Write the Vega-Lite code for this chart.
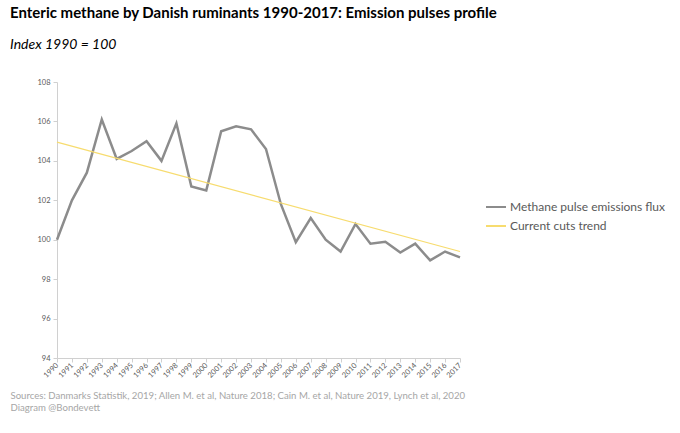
{
  "$schema": "https://vega.github.io/schema/vega-lite/v6.json",
  "width": 403,
  "height": 276,
  "autosize": {"type": "none"},
  "padding": {"left": 57, "top": 82, "right": 220, "bottom": 75},
  "background": "white",
  "title": {
    "text": "Enteric methane by Danish ruminants 1990-2017: Emission pulses profile",
    "subtitle": "\u2002Index 1990 = 100",
    "anchor": "start",
    "frame": "group",
    "dx": -47,
    "offset": 26,
    "font": "Lato",
    "fontSize": 15,
    "fontWeight": "bold",
    "color": "#000000",
    "subtitleFont": "Lato",
    "subtitleFontSize": 14,
    "subtitleFontStyle": "italic",
    "subtitleColor": "#000000",
    "subtitlePadding": 17
  },
  "datasets": {
    "flux": [
      {"year": 1990, "value": 100.0, "series": "Methane pulse emissions flux"},
      {"year": 1991, "value": 102.0, "series": "Methane pulse emissions flux"},
      {"year": 1992, "value": 103.4, "series": "Methane pulse emissions flux"},
      {"year": 1993, "value": 106.1, "series": "Methane pulse emissions flux"},
      {"year": 1994, "value": 104.1, "series": "Methane pulse emissions flux"},
      {"year": 1995, "value": 104.5, "series": "Methane pulse emissions flux"},
      {"year": 1996, "value": 105.0, "series": "Methane pulse emissions flux"},
      {"year": 1997, "value": 104.0, "series": "Methane pulse emissions flux"},
      {"year": 1998, "value": 105.9, "series": "Methane pulse emissions flux"},
      {"year": 1999, "value": 102.7, "series": "Methane pulse emissions flux"},
      {"year": 2000, "value": 102.5, "series": "Methane pulse emissions flux"},
      {"year": 2001, "value": 105.5, "series": "Methane pulse emissions flux"},
      {"year": 2002, "value": 105.75, "series": "Methane pulse emissions flux"},
      {"year": 2003, "value": 105.6, "series": "Methane pulse emissions flux"},
      {"year": 2004, "value": 104.6, "series": "Methane pulse emissions flux"},
      {"year": 2005, "value": 101.8, "series": "Methane pulse emissions flux"},
      {"year": 2006, "value": 99.87, "series": "Methane pulse emissions flux"},
      {"year": 2007, "value": 101.1, "series": "Methane pulse emissions flux"},
      {"year": 2008, "value": 100.0, "series": "Methane pulse emissions flux"},
      {"year": 2009, "value": 99.4, "series": "Methane pulse emissions flux"},
      {"year": 2010, "value": 100.8, "series": "Methane pulse emissions flux"},
      {"year": 2011, "value": 99.8, "series": "Methane pulse emissions flux"},
      {"year": 2012, "value": 99.9, "series": "Methane pulse emissions flux"},
      {"year": 2013, "value": 99.35, "series": "Methane pulse emissions flux"},
      {"year": 2014, "value": 99.8, "series": "Methane pulse emissions flux"},
      {"year": 2015, "value": 98.95, "series": "Methane pulse emissions flux"},
      {"year": 2016, "value": 99.4, "series": "Methane pulse emissions flux"},
      {"year": 2017, "value": 99.1, "series": "Methane pulse emissions flux"}
    ],
    "trend": [
      {"year": 1990, "value": 104.95, "series": "Current cuts trend"},
      {"year": 2017, "value": 99.4, "series": "Current cuts trend"}
    ]
  },
  "encoding": {
    "x": {
      "field": "year",
      "type": "quantitative",
      "scale": {"domain": [1990, 2017], "nice": false, "zero": false},
      "axis": {
        "title": ["Sources: Danmarks Statistik, 2019; Allen M. et al, Nature 2018; Cain M. et al, Nature 2019, Lynch et al, 2020", "Diagram @Bondevett"],
        "titleFont": "Lato",
        "titleFontSize": 9.6,
        "titleFontWeight": "normal",
        "titleColor": "#a6a6a6",
        "titleAnchor": "start",
        "titleAlign": "left",
        "titleBaseline": "top",
        "titleX": -47,
        "titleY": 32,
        "titleLineHeight": 12,
        "values": [1990, 1991, 1992, 1993, 1994, 1995, 1996, 1997, 1998, 1999, 2000, 2001, 2002, 2003, 2004, 2005, 2006, 2007, 2008, 2009, 2010, 2011, 2012, 2013, 2014, 2015, 2016, 2017],
        "format": "d",
        "labelAngle": -45,
        "labelAlign": "right",
        "labelBaseline": "middle",
        "labelFont": "Lato",
        "labelFontSize": 7.5,
        "labelColor": "#595959",
        "labelPadding": 2,
        "labelOverlap": false,
        "labelFlush": false,
        "domainColor": "#d0d0d0",
        "tickColor": "#d0d0d0",
        "tickSize": 4,
        "grid": false
      }
    },
    "y": {
      "field": "value",
      "type": "quantitative",
      "scale": {"domain": [94, 108], "nice": false, "zero": false},
      "axis": {
        "title": null,
        "values": [94, 96, 98, 100, 102, 104, 106, 108],
        "labelFont": "Lato",
        "labelFontSize": 7.5,
        "labelColor": "#595959",
        "domainColor": "#d0d0d0",
        "tickColor": "#d0d0d0",
        "tickSize": 4,
        "labelPadding": 3,
        "grid": false
      }
    },
    "color": {
      "field": "series",
      "type": "nominal",
      "scale": {
        "domain": ["Methane pulse emissions flux", "Current cuts trend"],
        "range": ["#8c8c8c", "#f7dc6f"]
      },
      "legend": {
        "title": null,
        "orient": "none",
        "legendX": 428,
        "legendY": 114,
        "symbolType": "stroke",
        "symbolSize": 400,
        "symbolStrokeWidth": 2,
        "labelFont": "Lato",
        "labelFontSize": 12,
        "labelColor": "#595959",
        "labelOffset": 3,
        "rowPadding": 2
      }
    }
  },
  "layer": [
    {
      "data": {"name": "flux"},
      "mark": {"type": "line", "strokeWidth": 2.5}
    },
    {
      "data": {"name": "trend"},
      "mark": {"type": "line", "strokeWidth": 1.2}
    }
  ],
  "config": {
    "view": {"stroke": null}
  }
}
